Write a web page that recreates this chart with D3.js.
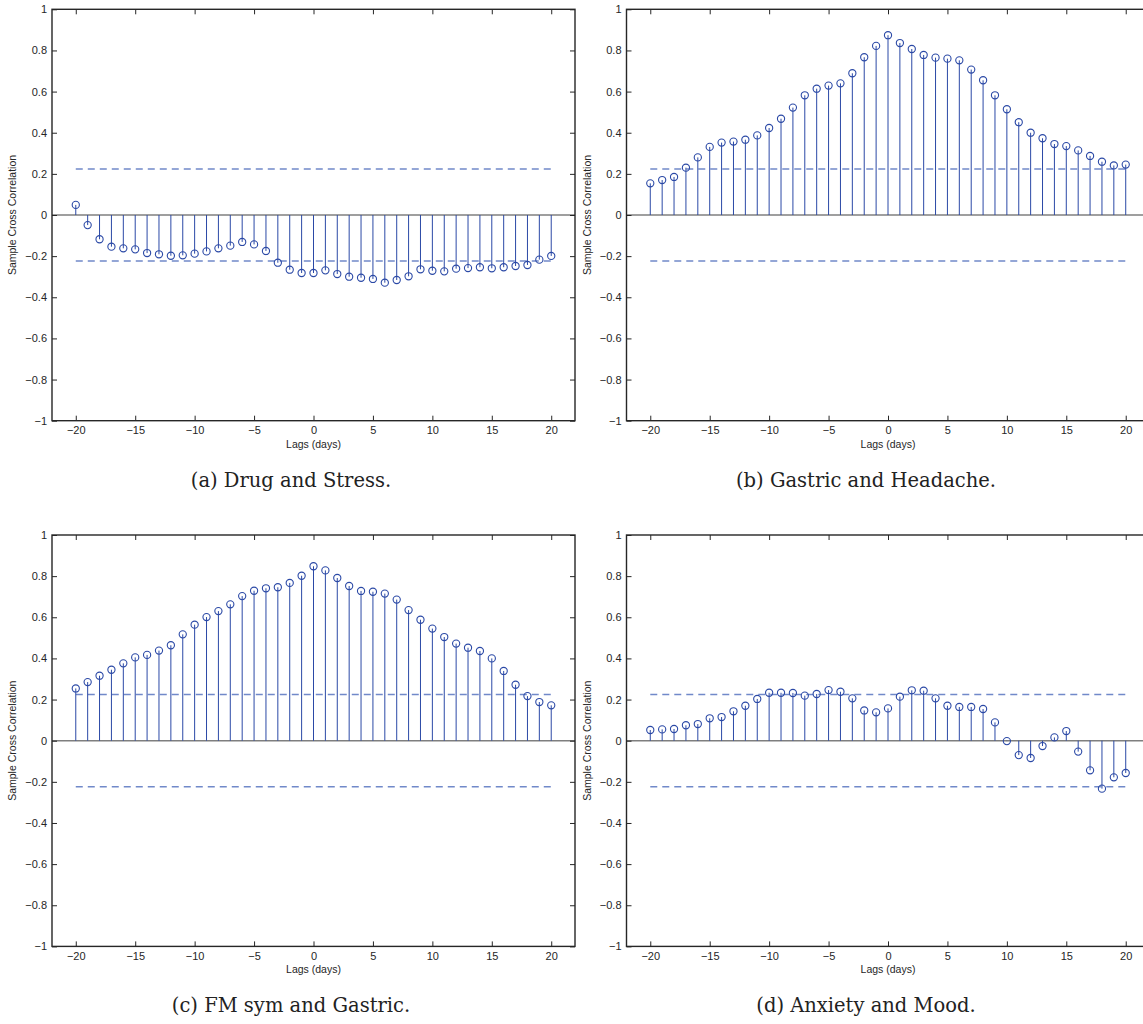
<!DOCTYPE html>
<html lang="en">
<head>
<meta charset="UTF-8">
<title>Sample Cross Correlation</title>
<style>
  body { margin: 0; background: #fff; }
  text { font-family: "Liberation Sans", Arial, Helvetica, sans-serif; fill: #262626; }
  .caption { font-family: "DejaVu Serif", "Liberation Serif", serif; fill: #222; }
</style>
</head>
<body>
<svg id="fig" width="1143" height="1024"></svg>
<script src="https://d3js.org/d3.v7.min.js"></script>
<script>

// lags shown on the x axis
var lags = [-20,-19,-18,-17,-16,-15,-14,-13,-12,-11,-10,-9,-8,-7,-6,-5,-4,-3,-2,-1,0,
            1,2,3,4,5,6,7,8,9,10,11,12,13,14,15,16,17,18,19,20];

// sample cross correlation, one value per lag
var drugStress = [0.049,-0.049,-0.118,-0.154,-0.162,-0.167,-0.185,-0.191,-0.198,-0.196,-0.188,
  -0.177,-0.162,-0.149,-0.131,-0.143,-0.175,-0.232,-0.266,-0.282,-0.282,-0.269,-0.287,-0.300,
  -0.305,-0.311,-0.329,-0.316,-0.298,-0.264,-0.271,-0.274,-0.261,-0.258,-0.254,-0.259,-0.254,
  -0.248,-0.243,-0.217,-0.199];

var gastricHeadache = [0.154,0.170,0.185,0.230,0.280,0.331,0.352,0.357,0.366,0.387,0.423,
  0.468,0.522,0.582,0.614,0.629,0.640,0.689,0.767,0.822,0.874,0.836,0.807,0.778,0.765,0.760,
  0.752,0.707,0.655,0.582,0.514,0.451,0.400,0.373,0.345,0.335,0.314,0.287,0.259,0.241,0.245];

var fmGastric = [0.254,0.285,0.316,0.345,0.376,0.405,0.417,0.438,0.464,0.517,0.564,0.601,
  0.630,0.663,0.703,0.729,0.741,0.746,0.767,0.802,0.848,0.828,0.791,0.752,0.728,0.724,0.715,
  0.686,0.635,0.588,0.545,0.504,0.472,0.452,0.436,0.400,0.339,0.272,0.217,0.188,0.172];

var anxietyMood = [0.052,0.055,0.057,0.075,0.081,0.109,0.115,0.143,0.170,0.203,0.233,0.233,
  0.232,0.219,0.227,0.246,0.238,0.206,0.147,0.138,0.157,0.214,0.245,0.243,0.206,0.170,0.164,
  0.164,0.154,0.089,-0.002,-0.070,-0.084,-0.026,0.016,0.047,-0.053,-0.144,-0.233,-0.178,-0.157];

// confidence bounds (dashed lines)
var bounds = [0.224, -0.224];

var xTicks = [-20,-15,-10,-5,0,5,10,15,20];
var yTicks = [-1,-0.8,-0.6,-0.4,-0.2,0,0.2,0.4,0.6,0.8,1];

var captions = ["(a) Drug and Stress.", "(b) Gastric and Headache.",
                "(c) FM sym and Gastric.", "(d) Anxiety and Mood."];
var series = [drugStress, gastricHeadache, fmGastric, anxietyMood];

// layout
var pw = 523, ph = 411.4;
var origins = [[52, 9.3], [626.5, 9.3], [52, 535], [626.5, 535]];
var captionX = [291, 866];

var stemColor = "#2b49a6", boundColor = "#7189c9";

var svg = d3.select("#fig");

var x = d3.scaleLinear().domain([-22, 22]).range([0, pw]);
var y = d3.scaleLinear().domain([-1, 1]).range([ph, 0]);

function fmt(d) {
  return d3.format("")(d).replace("-", "\u2212");
}

series.forEach(function (vals, i) {
  var g = svg.append("g")
    .attr("transform", "translate(" + origins[i][0] + "," + origins[i][1] + ")");

  // baseline at zero
  g.append("line")
    .attr("x1", 0).attr("x2", pw)
    .attr("y1", y(0)).attr("y2", y(0))
    .attr("stroke", "#7f7f7f").attr("stroke-width", 1.5);

  // confidence bounds
  g.selectAll(".bound").data(bounds).enter().append("line")
    .attr("x1", x(lags[0])).attr("x2", x(lags[lags.length - 1]))
    .attr("y1", function (d) { return y(d); })
    .attr("y2", function (d) { return y(d); })
    .attr("stroke", boundColor).attr("stroke-width", 1.5)
    .attr("stroke-dasharray", "7,5");

  var pts = lags.map(function (l, k) { return {lag: l, v: vals[k]}; });

  // stems
  g.selectAll(".stem").data(pts).enter().append("line")
    .attr("x1", function (d) { return x(d.lag); })
    .attr("x2", function (d) { return x(d.lag); })
    .attr("y1", y(0))
    .attr("y2", function (d) { return y(d.v); })
    .attr("stroke", stemColor).attr("stroke-width", 1);

  // markers
  g.selectAll(".mark").data(pts).enter().append("circle")
    .attr("cx", function (d) { return x(d.lag); })
    .attr("cy", function (d) { return y(d.v); })
    .attr("r", 3.6)
    .attr("fill", "none")
    .attr("stroke", stemColor).attr("stroke-width", 1.1);

  // axes, ticks pointing inside like matlab
  g.append("g").attr("transform", "translate(0," + ph + ")")
    .call(d3.axisBottom(x).tickValues(xTicks).tickSizeInner(-5).tickSizeOuter(0)
      .tickPadding(6).tickFormat(fmt));
  g.append("g")
    .call(d3.axisTop(x).tickValues(xTicks).tickSizeInner(-5).tickSizeOuter(0).tickFormat(""));
  g.append("g")
    .call(d3.axisLeft(y).tickValues(yTicks).tickSizeInner(-5).tickSizeOuter(0)
      .tickPadding(5).tickFormat(fmt));
  g.append("g").attr("transform", "translate(" + pw + ",0)")
    .call(d3.axisRight(y).tickValues(yTicks).tickSizeInner(-5).tickSizeOuter(0).tickFormat(""));

  g.selectAll(".domain").remove();
  g.selectAll(".tick line").attr("stroke", "#262626");
  g.selectAll(".tick text").attr("font-size", 11).style("font-family", null).attr("fill", "#262626");

  g.append("rect")
    .attr("width", pw).attr("height", ph)
    .attr("fill", "none").attr("stroke", "#262626").attr("stroke-width", 1.4);

  g.append("text")
    .attr("x", x(0)).attr("y", ph + 27)
    .attr("text-anchor", "middle").attr("font-size", 10.5)
    .text("Lags (days)");

  g.append("text")
    .attr("transform", "translate(-36," + y(0) + ") rotate(-90)")
    .attr("text-anchor", "middle").attr("font-size", 10.5)
    .text("Sample Cross Correlation");

  svg.append("text")
    .attr("class", "caption")
    .attr("x", captionX[i % 2]).attr("y", origins[i][1] + ph + 66)
    .attr("text-anchor", "middle").attr("font-size", 19.5)
    .text(captions[i]);
});

</script>
</body>
</html>
